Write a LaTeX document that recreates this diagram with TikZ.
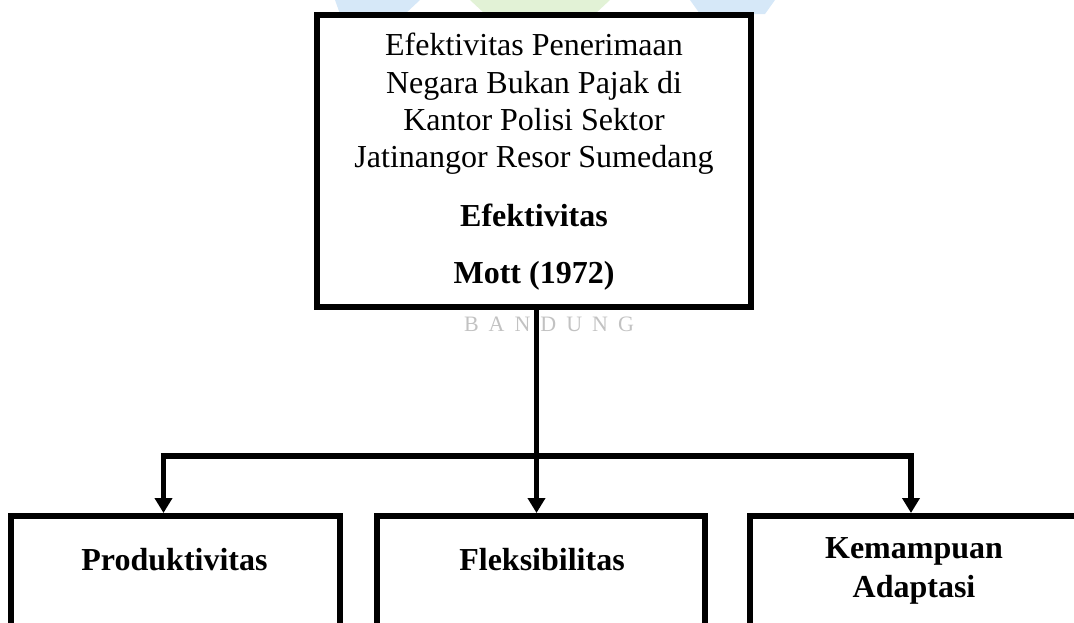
\documentclass[tikz,border=0pt]{standalone}
\usepackage{fontspec}
\setmainfont{Liberation Serif}
\usetikzlibrary{arrows.meta}
\definecolor{wmblue}{RGB}{214,232,248}
\definecolor{wmgreen}{RGB}{226,242,214}
\begin{document}
\begin{tikzpicture}[x=1pt,y=-1pt,
  box/.style={draw=black, fill=white, line width=6pt, rectangle, inner sep=0pt},
  txt/.style={anchor=base, inner sep=0pt, font=\fontsize{32}{37}\selectfont},
  btxt/.style={anchor=base, inner sep=0pt, font=\fontsize{32}{37}\selectfont\bfseries},
  wm/.style={anchor=base, inner sep=0pt, text=black!24, font=\fontsize{22}{26}\selectfont},
  arr/.style={line width=5.5pt, -{Triangle[width=17pt,length=15pt]}},
  bar/.style={line width=6.6pt},
]
\useasboundingbox (0,0) rectangle (1074,622);
\clip (0,0) rectangle (1074,622);
% faint watermark (logo remnants and text)
\fill[wmblue] (335,0) -- (420,0) -- (405,14) -- (340,14) -- cycle;
\fill[wmgreen] (470,0) -- (610,0) -- (595,14) -- (485,14) -- cycle;
\fill[wmblue] (690,0) -- (775,0) -- (765,14) -- (700,14) -- cycle;
\node[wm] (wmark) at (549,331.7) {B\kern10pt A\kern10pt N\kern10pt D\kern10pt U\kern10pt N\kern10pt G};
% boxes
\node[box, minimum width=434pt, minimum height=292pt] (top) at (534,161) {};
\node[box, minimum width=329pt, minimum height=241pt] (b1) at (175.5,636.5) {};
\node[box, minimum width=328pt, minimum height=241pt] (b2) at (541,636.5) {};
\node[box, minimum width=329pt, minimum height=241pt] (b3) at (914.5,636.5) {};
% top texts
\node[txt] (t1) at (534,55.6) {Efektivitas Penerimaan};
\node[txt] (t2) at (534,93.2) {Negara Bukan Pajak di};
\node[txt] (t3) at (534,130.4) {Kantor Polisi Sektor};
\node[txt] (t4) at (534,167) {Jatinangor Resor Sumedang};
\node[btxt] (t5) at (534,226.9) {Efektivitas};
\node[btxt] (t6) at (534,283.4) {Mott (1972)};
% bottom texts
\node[btxt] (p1) at (174.5,570) {Produktivitas};
\node[btxt] (p2) at (542,570) {Fleksibilitas};
\node[btxt] (p3) at (914,558) {Kemampuan};
\node[btxt] (p4) at (914,597) {Adaptasi};
% connectors
\coordinate (j) at (536.5,456);
\coordinate (cl) at (163.5,456);
\coordinate (cr) at (911,456);
\draw[bar] ([xshift=-2.7pt]cl) -- ([xshift=2.7pt]cr);
\draw[arr] (top.south -| j) -- (b2.north -| j);
\draw[arr] (cl) -- (b1.north -| cl);
\draw[arr] (cr) -- (b3.north -| cr);
\end{tikzpicture}
\end{document}
